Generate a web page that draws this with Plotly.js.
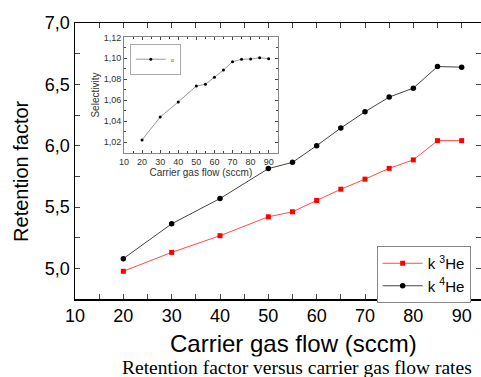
<!DOCTYPE html>
<html>
<head>
<meta charset="utf-8">
<script src="https://cdn.plot.ly/plotly-3.0.1.min.js"></script>
<style>html,body{margin:0;padding:0;background:#fff;}#chart{width:481px;height:377px;}</style>
</head>
<body>
<div id="chart"></div>
<script>
const flow = [20, 30, 40, 50, 55, 60, 65, 70, 75, 80, 85, 90];
const k3He = [4.976, 5.130, 5.266, 5.420, 5.461, 5.553, 5.645, 5.727, 5.815, 5.884, 6.041, 6.041];
const k4He = [5.079, 5.363, 5.569, 5.813, 5.864, 6.000, 6.144, 6.276, 6.396, 6.469, 6.645, 6.640];
const alpha = [1.0222, 1.0441, 1.0584, 1.0736, 1.0752, 1.0819, 1.0888, 1.0968, 1.0990, 1.0993, 1.1006, 1.0996];
const mainXTicks = [10, 20, 30, 40, 50, 60, 70, 80, 90];
const mainYTicks = [5.0, 5.5, 6.0, 6.5, 7.0];

const traces = [
  {x: flow, y: k3He, name: 'k <sup>3</sup>He', type: 'scatter', mode: 'lines+markers',
   line: {color: '#ff4a4a', width: 1}, marker: {color: '#ff0000', symbol: 'square', size: 5},
   xaxis: 'x', yaxis: 'y', legend: 'legend'},
  {x: flow, y: k4He, name: 'k <sup>4</sup>He', type: 'scatter', mode: 'lines+markers',
   line: {color: '#444444', width: 1}, marker: {color: '#000000', symbol: 'circle', size: 5.5},
   xaxis: 'x', yaxis: 'y', legend: 'legend'},
  {x: flow, y: alpha, name: 'α', type: 'scatter', mode: 'lines+markers',
   line: {color: '#999999', width: 1}, marker: {color: '#000000', symbol: 'circle', size: 3},
   xaxis: 'x2', yaxis: 'y2', legend: 'legend2'}
];

const axisFont = {family: 'Liberation Sans, Arial, sans-serif', size: 18, color: '#000'};
const smallFont = {family: 'Liberation Sans, Arial, sans-serif', size: 9, color: '#333'};

const layout = {
  width: 481, height: 377,
  margin: {l: 75, r: 0, t: 23, b: 78},
  paper_bgcolor: '#fff', plot_bgcolor: 'rgba(0,0,0,0)',
  separators: ', ',
  showlegend: true,
  xaxis: {
    range: [10, 94], tickvals: mainXTicks, ticks: 'inside', ticklen: 5, tickwidth: 1,
    minor: {dtick: 5, ticks: 'inside', ticklen: 5, tickwidth: 1},
    showline: true, linecolor: '#000', linewidth: 1.5, mirror: 'ticks',
    showgrid: false, zeroline: false, tickfont: axisFont, domain: [0, 1]
  },
  yaxis: {
    range: [4.75, 7.0], tickvals: mainYTicks, tickformat: '.1f', ticks: 'inside', ticklen: 5, tickwidth: 1,
    minor: {dtick: 0.25, ticks: 'inside', ticklen: 5, tickwidth: 1},
    showline: true, linecolor: '#000', linewidth: 1.5, mirror: 'ticks',
    showgrid: false, zeroline: false, tickfont: axisFont
  },
  xaxis2: {
    anchor: 'y2', domain: [0.1207, 0.4993], range: [10, 95], dtick: 10, ticks: 'inside', ticklen: 3,
    minor: {dtick: 5, ticks: 'inside', ticklen: 2},
    showline: true, linecolor: '#888', linewidth: 1, mirror: 'ticks',
    showgrid: false, zeroline: false, tickfont: smallFont,
    title: {text: 'Carrier gas flow (sccm)', font: {family: 'Liberation Sans, Arial, sans-serif', size: 10, color: '#333'}, standoff: 1}
  },
  yaxis2: {
    anchor: 'x2', domain: [0.530, 0.948], range: [1.01, 1.12], dtick: 0.02, tick0: 1.0, tickformat: '.2f',
    ticks: 'inside', ticklen: 3, minor: {dtick: 0.01, ticks: 'inside', ticklen: 2},
    showline: true, linecolor: '#888', linewidth: 1, mirror: 'ticks',
    showgrid: false, zeroline: false, tickfont: smallFont,
    title: {text: 'Selectivity', font: {family: 'Liberation Sans, Arial, sans-serif', size: 10, color: '#333'}, standoff: 2}
  },
  legend: {
    x: 0.743, y: 0.192, xanchor: 'left', yanchor: 'top',
    bgcolor: '#fff', bordercolor: '#888', borderwidth: 1,
    font: {family: 'Liberation Sans, Arial, sans-serif', size: 15, color: '#000'},
    itemwidth: 40, tracegroupgap: 0
  },
  legend2: {
    x: 0.135, y: 0.925, xanchor: 'left', yanchor: 'top',
    bgcolor: '#fff', bordercolor: '#aaa', borderwidth: 1,
    font: {family: 'Liberation Serif, serif', size: 6, color: '#555'},
    itemwidth: 30
  },
  annotations: [
    {text: 'Retention factor', xref: 'paper', yref: 'paper', x: -0.133, y: 0.464, textangle: -90,
     xanchor: 'center', yanchor: 'middle', showarrow: false,
     font: {family: 'Liberation Sans, Arial, sans-serif', size: 20, color: '#000'}},
    {text: 'Carrier gas flow (sccm)', xref: 'paper', yref: 'paper', x: 0.537, y: -0.16,
     xanchor: 'center', yanchor: 'middle', showarrow: false,
     font: {family: 'Liberation Sans, Arial, sans-serif', size: 24, color: '#000'}},
    {text: 'Retention factor versus carrier gas flow rates', xref: 'paper', yref: 'paper', x: 0.548, y: -0.205,
     xanchor: 'center', yanchor: 'top', showarrow: false, bgcolor: '#fff', borderpad: 0,
     font: {family: 'Liberation Serif, Times New Roman, serif', size: 19.5, color: '#000'}}
  ]
};

Plotly.newPlot('chart', traces, layout, {displayModeBar: false, staticPlot: true});
</script>
</body>
</html>
